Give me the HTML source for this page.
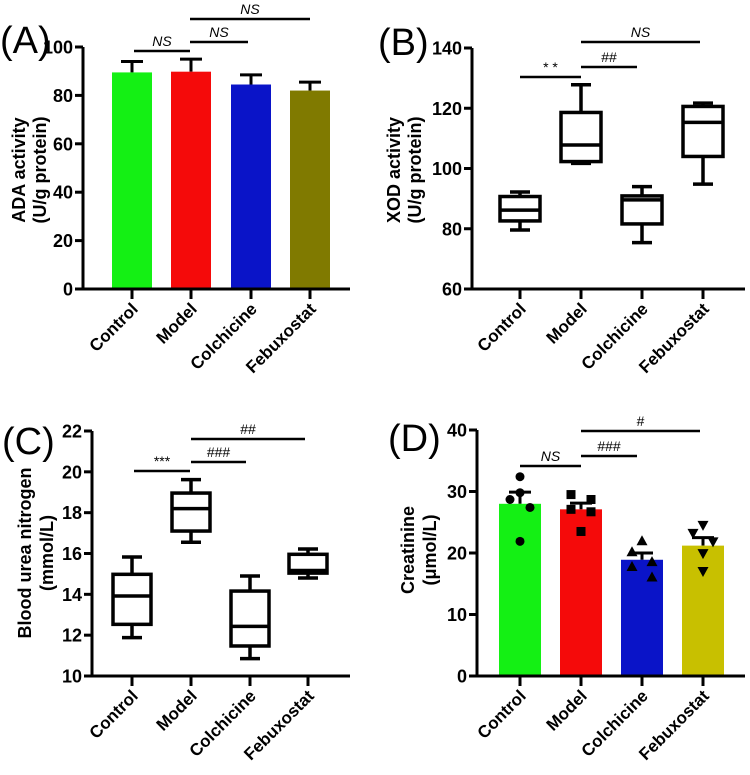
<!DOCTYPE html>
<html><head><meta charset="utf-8"><style>
html,body{margin:0;padding:0;background:#fff;}
svg{display:block;font-family:"Liberation Sans",Arial,sans-serif;}
</style></head><body>
<svg id="fig" width="750" height="775" viewBox="0 0 750 775" xmlns="http://www.w3.org/2000/svg"></svg>
<script>
const categories = ["Control","Model","Colchicine","Febuxostat"];
// Panel A: ADA activity (mean, error top)
const adaMean = [89.5, 89.8, 84.5, 82];
const adaErr = [94, 95, 88.5, 85.5];
const adaTicks = [0,20,40,60,80,100];
// Panel B: XOD box plots [min,q1,median,q3,max]
const xodBoxes = [[79.6,82.6,86.2,90.7,92.2],[101.7,102.3,107.8,118.6,127.8],[75.4,81.6,89.6,90.9,94],[94.8,104,115.3,120.6,121.7]];
const xodTicks = [60,80,100,120,140];
// Panel C: BUN box plots
const bunBoxes = [[11.88,12.53,13.92,14.98,15.83],[16.55,17.1,18.2,18.96,19.62],[10.85,11.47,12.43,14.16,14.9],[14.8,15.04,15.17,15.96,16.22]];
const bunTicks = [10,12,14,16,18,20,22];
// Panel D: creatinine
const creMean = [28, 27.1, 18.9, 21.2];
const creErr = [29.9, 28.1, 20, 22.5];
const crePoints = [[32.4,28.7,29.8,27.4,21.9],[29.5,28.7,27.1,26.7,23.5],[22,20.2,17.8,18.6,16.1],[24.5,23.2,21.8,19.9,17]];
const creTicks = [0,10,20,30,40];

const NS='http://www.w3.org/2000/svg';
const svg=document.getElementById('fig');
function mk(tag,attrs,parent,text){const e=document.createElementNS(NS,tag);for(const k in attrs)e.setAttribute(k,attrs[k]);if(text!==undefined)e.textContent=text;(parent||svg).appendChild(e);return e;}

function panel(cfg){
  const g=mk('g',{});
  
  
  const y=v=>cfg.y0+(v-cfg.vmin)/(cfg.vmax-cfg.vmin)*(cfg.y1-cfg.y0);
  const x=i=>cfg.xs[i];
  const lab=mk('text',{x:cfg.labX,y:cfg.labY,'font-size':38,fill:'#000'},g,cfg.label);
  
  
  const tt=mk('text',{transform:`translate(${cfg.tx1},${cfg.tcy}) rotate(-90)`,'text-anchor':'middle','font-size':18,'font-weight':'bold'},g,cfg.title1);
  
  
  const tt2=mk('text',{transform:`translate(${cfg.tx2},${cfg.tcy}) rotate(-90)`,'text-anchor':'middle','font-size':18,'font-weight':'bold'},g,cfg.title2);
  
  
  cfg.draw(g,x,y);
  const ax=mk('line',{x1:cfg.ax,x2:cfg.ax,y1:y(cfg.vmin)+1.5,y2:y(cfg.vmax),stroke:'#000','stroke-width':3},g);
  
  
  const xa=mk('line',{x1:cfg.ax,x2:cfg.axEnd,y1:y(cfg.vmin),y2:y(cfg.vmin),stroke:'#000','stroke-width':3},g);
  
  
  cfg.ticks.forEach(t=>{
    const l=mk('line',{x1:cfg.ax-8,x2:cfg.ax,y1:y(t),y2:y(t),stroke:'#000','stroke-width':3},g);
    
    
    const tx=mk('text',{x:cfg.ax-10,y:y(t)+6.5,'text-anchor':'end','font-size':18,'font-weight':'bold'},g,String(t));
    
    
  });
  categories.forEach((c,i)=>{
    const l=mk('line',{x1:x(i),x2:x(i),y1:y(cfg.vmin),y2:y(cfg.vmin)+10,stroke:'#000','stroke-width':3},g);
    
    
    const tx=mk('text',{transform:`translate(${x(i)+7},${y(cfg.vmin)+21}) rotate(-45)`,'text-anchor':'end','font-size':17,'font-weight':'bold'},g,c);
    
    
  });
  cfg.sig.forEach(s=>{
    const l=mk('line',{x1:s[0],x2:s[1],y1:s[2],y2:s[2],stroke:'#000','stroke-width':2.5},g);
    
    
    const tx=mk('text',{x:(s[0]+s[1])/2,y:s[2]-5,'text-anchor':'middle','font-size':14,'font-style':s[4]?'italic':'normal'},g,s[3]);
    
    
  });
}
function bars(g,x,y,mean,err,colors,w,vmin){
  mean.forEach((m,i)=>{
    const e=mk('line',{x1:x(i),x2:x(i),y1:y(m),y2:y(err[i]),stroke:'#000','stroke-width':3},g);
    
    
    const c=mk('line',{x1:x(i)-11,x2:x(i)+11,y1:y(err[i]),y2:y(err[i]),stroke:'#000','stroke-width':3},g);
    
    
    const r=mk('rect',{x:x(i)-w/2,y:y(m),width:w,height:y(vmin)-y(m),fill:colors[i]},g);
    
    
  });
}
function boxes(g,x,y,data,w){
  data.forEach((b,i)=>{
    const bg=mk('g',{stroke:'#000','stroke-width':3.5,fill:'none'},g);
    
    
    mk('line',{x1:x(i),x2:x(i),y1:y(b[0]),y2:y(b[1])},bg);
    mk('line',{x1:x(i),x2:x(i),y1:y(b[3]),y2:y(b[4])},bg);
    mk('line',{x1:x(i)-10,x2:x(i)+10,y1:y(b[0]),y2:y(b[0])},bg);
    mk('line',{x1:x(i)-10,x2:x(i)+10,y1:y(b[4]),y2:y(b[4])},bg);
    mk('rect',{x:x(i)-w/2,y:y(b[3]),width:w,height:y(b[1])-y(b[3])},bg);
    mk('line',{x1:x(i)-w/2,x2:x(i)+w/2,y1:y(b[2]),y2:y(b[2])},bg);
  });
}
panel({name:'panel-a-ada',label:'(A)',labX:0,labY:53,vmin:0,vmax:100,y0:289,y1:47,ax:83,axEnd:350,xs:[132,191,251,310],
  ticks:adaTicks,title1:'ADA activity',title2:'(U/g protein)',tx1:25,tx2:46,tcy:170,
  sig:[[134,190,51,'NS',1],[190,248,42,'NS',1],[190,310,19,'NS',1]],
  draw:(g,x,y)=>bars(g,x,y,adaMean,adaErr,['#14f014','#f50a0a','#0a14c8','#807a00'],40,0)});
panel({name:'panel-b-xod',label:'(B)',labX:378,labY:55,vmin:60,vmax:140,y0:289,y1:48,ax:472,axEnd:745,xs:[520,581,642,703],
  ticks:xodTicks,title1:'XOD activity',title2:'(U/g protein)',tx1:400,tx2:421,tcy:170,
  sig:[[520,581,77,'* *',0],[581,637,67,'##',0],[581,700,42,'NS',1]],
  draw:(g,x,y)=>boxes(g,x,y,xodBoxes,40)});
panel({name:'panel-c-bun',label:'(C)',labX:2,labY:454,vmin:10,vmax:22,y0:676,y1:431,ax:92,axEnd:350,xs:[132,191,250,308],
  ticks:bunTicks,title1:'Blood urea nitrogen',title2:'(mmol/L)',tx1:31,tx2:53,tcy:553,
  sig:[[134,190,471,'***',0],[191,246,462,'###',0],[191,305,439,'##',0]],
  draw:(g,x,y)=>boxes(g,x,y,bunBoxes,38)});
const jitter=[[0,-10,0,10,0],[-10,10,-10,10,0],[0,-10,-10,10,10],[0,-10,10,0,0]];
panel({name:'panel-d-creatinine',label:'(D)',labX:388,labY:451,vmin:0,vmax:40,y0:676,y1:430,ax:477,axEnd:745,xs:[520,581,642,703],
  ticks:creTicks,title1:'Creatinine',title2:'(\u03bcmol/L)',tx1:414,tx2:436,tcy:550,
  sig:[[520,581,466,'NS',1],[581,637,456,'###',0],[581,700,431,'#',0]],
  draw:(g,x,y)=>{
    bars(g,x,y,creMean,creErr,['#14f014','#f50a0a','#0a14c8','#c8c000'],42,0);
    crePoints.forEach((pts,i)=>pts.forEach((v,j)=>{
      const cx=x(i)+jitter[i][j], cy=y(v);
      let p;
      if(i===0) p=mk('circle',{cx:cx,cy:cy,r:4.5,fill:'#000'},g);
      else if(i===1) p=mk('rect',{x:cx-4.5,y:cy-4.5,width:9,height:9,fill:'#000'},g);
      else if(i===2) p=mk('polygon',{points:`${cx},${cy-5.5} ${cx-5.5},${cy+4.5} ${cx+5.5},${cy+4.5}`,fill:'#000'},g);
      else p=mk('polygon',{points:`${cx},${cy+5.5} ${cx-5.5},${cy-4.5} ${cx+5.5},${cy-4.5}`,fill:'#000'},g);
      
      
    }));
  }});
</script>
</body></html>
